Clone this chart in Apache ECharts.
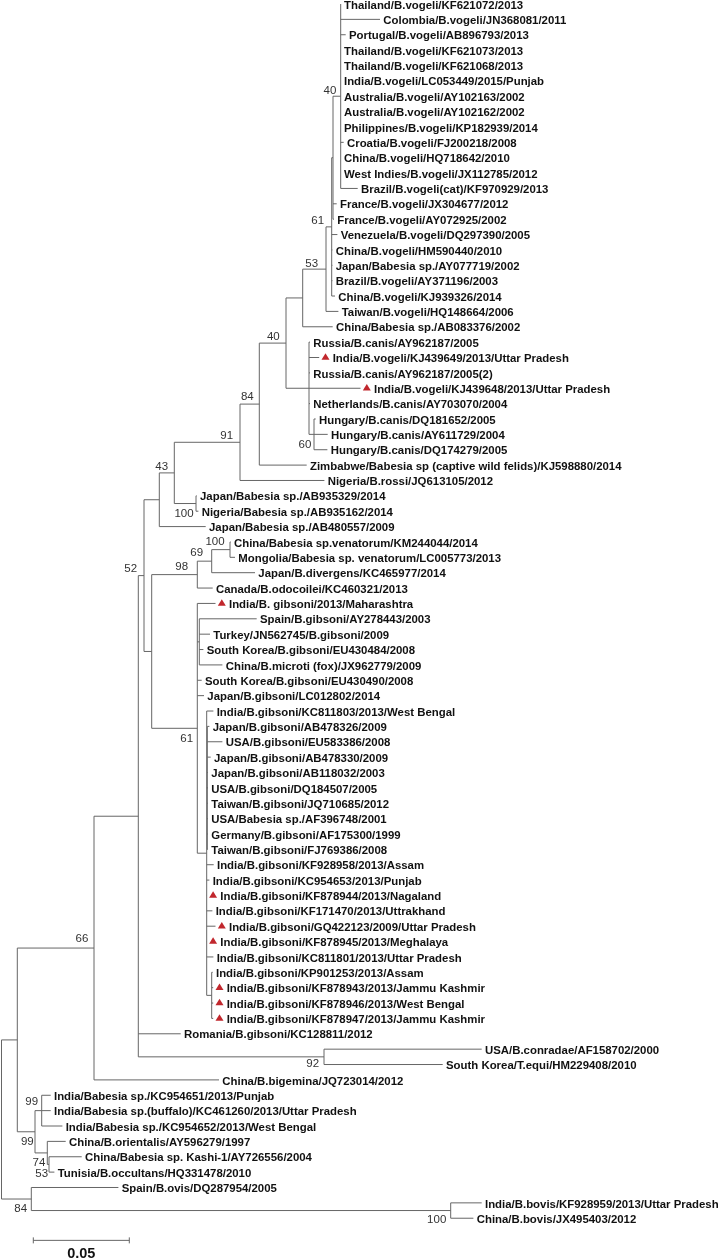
<!DOCTYPE html>
<html>
<head>
<meta charset="utf-8">
<style>html,body{margin:0;padding:0;background:#fff}#c{width:720px;height:1260px}</style>
<script src="https://cdn.jsdelivr.net/npm/echarts@6/dist/echarts.min.js"></script>
</head>
<body>
<div id="c"></div>
<script>
// Taxa, top to bottom
const leafNames = [
"Thailand/B.vogeli/KF621072/2013","Colombia/B.vogeli/JN368081/2011","Portugal/B.vogeli/AB896793/2013","Thailand/B.vogeli/KF621073/2013","Thailand/B.vogeli/KF621068/2013","India/B.vogeli/LC053449/2015/Punjab","Australia/B.vogeli/AY102163/2002","Australia/B.vogeli/AY102162/2002","Philippines/B.vogeli/KP182939/2014","Croatia/B.vogeli/FJ200218/2008",
"China/B.vogeli/HQ718642/2010","West Indies/B.vogeli/JX112785/2012","Brazil/B.vogeli(cat)/KF970929/2013","France/B.vogeli/JX304677/2012","France/B.vogeli/AY072925/2002","Venezuela/B.vogeli/DQ297390/2005","China/B.vogeli/HM590440/2010","Japan/Babesia sp./AY077719/2002","Brazil/B.vogeli/AY371196/2003","China/B.vogeli/KJ939326/2014",
"Taiwan/B.vogeli/HQ148664/2006","China/Babesia sp./AB083376/2002","Russia/B.canis/AY962187/2005","India/B.vogeli/KJ439649/2013/Uttar Pradesh","Russia/B.canis/AY962187/2005(2)","India/B.vogeli/KJ439648/2013/Uttar Pradesh","Netherlands/B.canis/AY703070/2004","Hungary/B.canis/DQ181652/2005","Hungary/B.canis/AY611729/2004","Hungary/B.canis/DQ174279/2005",
"Zimbabwe/Babesia sp (captive wild felids)/KJ598880/2014","Nigeria/B.rossi/JQ613105/2012","Japan/Babesia sp./AB935329/2014","Nigeria/Babesia sp./AB935162/2014","Japan/Babesia sp./AB480557/2009","China/Babesia sp.venatorum/KM244044/2014","Mongolia/Babesia sp. venatorum/LC005773/2013","Japan/B.divergens/KC465977/2014","Canada/B.odocoilei/KC460321/2013","India/B. gibsoni/2013/Maharashtra",
"Spain/B.gibsoni/AY278443/2003","Turkey/JN562745/B.gibsoni/2009","South Korea/B.gibsoni/EU430484/2008","China/B.microti (fox)/JX962779/2009","South Korea/B.gibsoni/EU430490/2008","Japan/B.gibsoni/LC012802/2014","India/B.gibsoni/KC811803/2013/West Bengal","Japan/B.gibsoni/AB478326/2009","USA/B.gibsoni/EU583386/2008","Japan/B.gibsoni/AB478330/2009",
"Japan/B.gibsoni/AB118032/2003","USA/B.gibsoni/DQ184507/2005","Taiwan/B.gibsoni/JQ710685/2012","USA/Babesia sp./AF396748/2001","Germany/B.gibsoni/AF175300/1999","Taiwan/B.gibsoni/FJ769386/2008","India/B.gibsoni/KF928958/2013/Assam","India/B.gibsoni/KC954653/2013/Punjab","India/B.gibsoni/KF878944/2013/Nagaland","India/B.gibsoni/KF171470/2013/Uttrakhand",
"India/B.gibsoni/GQ422123/2009/Uttar Pradesh","India/B.gibsoni/KF878945/2013/Meghalaya","India/B.gibsoni/KC811801/2013/Uttar Pradesh","India/B.gibsoni/KP901253/2013/Assam","India/B.gibsoni/KF878943/2013/Jammu Kashmir","India/B.gibsoni/KF878946/2013/West Bengal","India/B.gibsoni/KF878947/2013/Jammu Kashmir","Romania/B.gibsoni/KC128811/2012","USA/B.conradae/AF158702/2000","South Korea/T.equi/HM229408/2010",
"China/B.bigemina/JQ723014/2012","India/Babesia sp./KC954651/2013/Punjab","India/Babesia sp.(buffalo)/KC461260/2013/Uttar Pradesh","India/Babesia sp./KC954652/2013/West Bengal","China/B.orientalis/AY596279/1997","China/Babesia sp. Kashi-1/AY726556/2004","Tunisia/B.occultans/HQ331478/2010","Spain/B.ovis/DQ287954/2005","India/B.bovis/KF928959/2013/Uttar Pradesh","China/B.bovis/JX495403/2012"
];
// Tip depth of each taxon (96 depth units = 0.05 substitutions per site)
const leafDepth = [
340.7,380,345.7,340.7,340.7,340.7,340.7,340.7,340.7,343.7,
340.7,340.7,357.7,336.7,334,337.4,332.4,332.4,332.4,335,
338.4,332.7,310,319.2,310,360.5,310,315.7,327.7,327.4,
306.7,324.4,196.7,198.4,205.7,230.7,235,255,212.7,215.5,
256.7,210,203.4,222.4,201.7,204,213.4,209.4,222.4,210.7,
208,208,208,208,208,208,213.7,209.4,206.8,212.4,
215.5,206.8,213.4,212.7,213.2,213.2,213.2,180.7,481.7,442.7,
219,50.7,50.7,62.4,65.7,81.7,54.4,118.4,481.7,473.4
];
// Taxa flagged with a red triangle (this study)
const markedLeaves = [23,25,39,58,60,61,64,65,66];

// Internal nodes: id, depth, bootstrap support, children (number = taxon row, string = node id)
const nodeIds = ["A","B1","B","C","D","Hu","F","E","G","H","J","I","K","P","O","N","R","S1","T","S","Q","M","L","W","U","V","Z","AB","AA","Y","X","AD","AC","root"];
const nodeDepth = [340.7,333,331.7,326,302.7,314,309,286,259.3,240,196,174.3,159.3,230,211.7,197.3,199.3,207.3,211.7,206.7,197.3,151.7,144,324,138.3,94,41.7,49,47.3,35,17.3,450.7,31.3,1.5];
const nodeSupport = [40,null,61,53,null,60,null,40,84,91,100,43,null,100,69,98,null,null,null,null,61,null,52,92,null,66,99,53,74,99,null,100,84,null];
const nodeChildren = [
[0,1,2,3,4,5,6,7,8,9,10,11,12],["A",13,14],["B1",15,16,17,18,19],["B",20],["C",21],[27,28,29],
[22,23,24,25,26,"Hu"],["D","F"],["E",30],["G",31],[32,33],["H","J"],["I",34],[35,36],["P",37],["O",38],
[40,41,42,43],[47,48,49,50,51,52,53,54,55],[63,64,65,66],[46,"S1",56,57,58,59,60,61,62,"T"],[39,"R",44,45,"S"],
["N","Q"],["K","M"],[68,69],["L",67,"W"],["U",70],[71,72,73],[75,76],[74,"AB"],["Z","AA"],["V","Y"],[78,79],[77,"AD"],["X","AC"]
];
// Nudge of each support label from its node, in screen pixels
const supportDx = [-10.7,0,-14,-14.3,0,-9,0,-12.7,-12,-13.3,-12,-12.6,0,-15,-15,-15.6,0,0,0,0,-10.6,0,-13.3,-11.3,0,-12,-10,-7.3,-8.3,-7.7,0,-14,-10.6,0];
const supportDy = [-4.9,0,-5.9,-5.8,0,10.6,0,-6,-7,-6.3,10.5,-6.2,0,-8,-7.9,-7.9,0,0,0,0,10.7,0,-6.3,7.4,0,-9,-9,9.5,9.8,9.9,0,9.4,9.7,0];

// Scale bar
const scaleBarDepth = [33.3,129.3];
const scaleBarRow = 80.44;
const scaleBarLabel = "0.05";

const ROW_PX = 15.37, ROW0_PX = 4;
const rowMin = -ROW0_PX / ROW_PX, rowMax = (1260 - ROW0_PX) / ROW_PX;

const idx = id => nodeIds.indexOf(id);
function rowOf(k){
  if (typeof k === 'number') return k;
  const kids = nodeChildren[idx(k)];
  return (rowOf(kids[0]) + rowOf(kids[kids.length-1])) / 2;
}
const depthOf = k => typeof k === 'number' ? leafDepth[k] : nodeDepth[idx(k)];

const branches = [];
nodeIds.forEach((id,i) => {
  const kids = nodeChildren[i], d = nodeDepth[i];
  branches.push([d, rowOf(kids[0]), d, rowOf(kids[kids.length-1]), 0]);
  kids.forEach(k => branches.push([d, rowOf(k), depthOf(k), rowOf(k), 0]));
});
branches.push([scaleBarDepth[0], scaleBarRow, scaleBarDepth[1], scaleBarRow, 1]);

const LINE = '#666';
const chart = echarts.init(document.getElementById('c'), null, {renderer:'canvas', width:720, height:1260});
chart.setOption({
  animation:false,
  backgroundColor:'#fff',
  grid:{left:0,right:0,top:0,bottom:0,containLabel:false},
  xAxis:{type:'value',min:0,max:720,show:false},
  yAxis:{type:'value',min:rowMin,max:rowMax,inverse:true,show:false},
  series:[
    {
      type:'custom', coordinateSystem:'cartesian2d', silent:true, clip:false,
      data:branches,
      encode:{x:[0,2],y:[1,3]},
      renderItem(p,api){
        const a=api.coord([api.value(0),api.value(1)]), b=api.coord([api.value(2),api.value(3)]);
        const els=[{type:'line',shape:{x1:a[0],y1:a[1],x2:b[0],y2:b[1]},style:{stroke:LINE,lineWidth:1,fill:null}}];
        if(api.value(4)===1){
          [a,b].forEach(q=>els.push({type:'line',shape:{x1:q[0],y1:q[1]-3,x2:q[0],y2:q[1]+3},style:{stroke:LINE,lineWidth:1,fill:null}}));
        }
        return {type:'group',children:els};
      }
    },
    {
      type:'scatter', silent:true,
      symbol:'triangle', symbolSize:[8,6.5], symbolOffset:[6.3,-1],
      itemStyle:{color:'#c1272d',opacity:1},
      data:markedLeaves.map(i=>[leafDepth[i],i])
    },
    {
      type:'custom', coordinateSystem:'cartesian2d', silent:true, clip:false,
      data:leafNames.map((n,i)=>[leafDepth[i],i,markedLeaves.includes(i)?1:0]),
      renderItem(p,api){
        const q=api.coord([api.value(0),api.value(1)]);
        return {type:'text',x:q[0]+(api.value(2)?13.5:3.3),y:q[1]+1.5,
          style:{text:leafNames[p.dataIndex],fill:'#111',font:'bold 11.4px "Liberation Sans", Arial, sans-serif',align:'left',verticalAlign:'middle'}};
      }
    },
    {
      type:'custom', coordinateSystem:'cartesian2d', silent:true, clip:false,
      data:nodeIds.map((id,i)=>[nodeDepth[i],rowOf(id),nodeSupport[i]===null?-1:nodeSupport[i],i]).filter(r=>r[2]>=0),
      renderItem(p,api){
        const q=api.coord([api.value(0),api.value(1)]), i=api.value(3);
        return {type:'text',x:q[0]+supportDx[i],y:q[1]+supportDy[i],
          style:{text:String(api.value(2)),fill:'#333',font:'11.5px "Liberation Sans", Arial, sans-serif',align:'center',verticalAlign:'middle'}};
      }
    },
    {
      type:'custom', coordinateSystem:'cartesian2d', silent:true, clip:false,
      data:[[(scaleBarDepth[0]+scaleBarDepth[1])/2,scaleBarRow]],
      renderItem(p,api){
        const q=api.coord([api.value(0),api.value(1)]);
        return {type:'text',x:q[0],y:q[1]+13.5,
          style:{text:scaleBarLabel,fill:'#111',font:'bold 14.5px "Liberation Sans", Arial, sans-serif',align:'center',verticalAlign:'middle'}};
      }
    }
  ]
});
</script>
</body>
</html>
